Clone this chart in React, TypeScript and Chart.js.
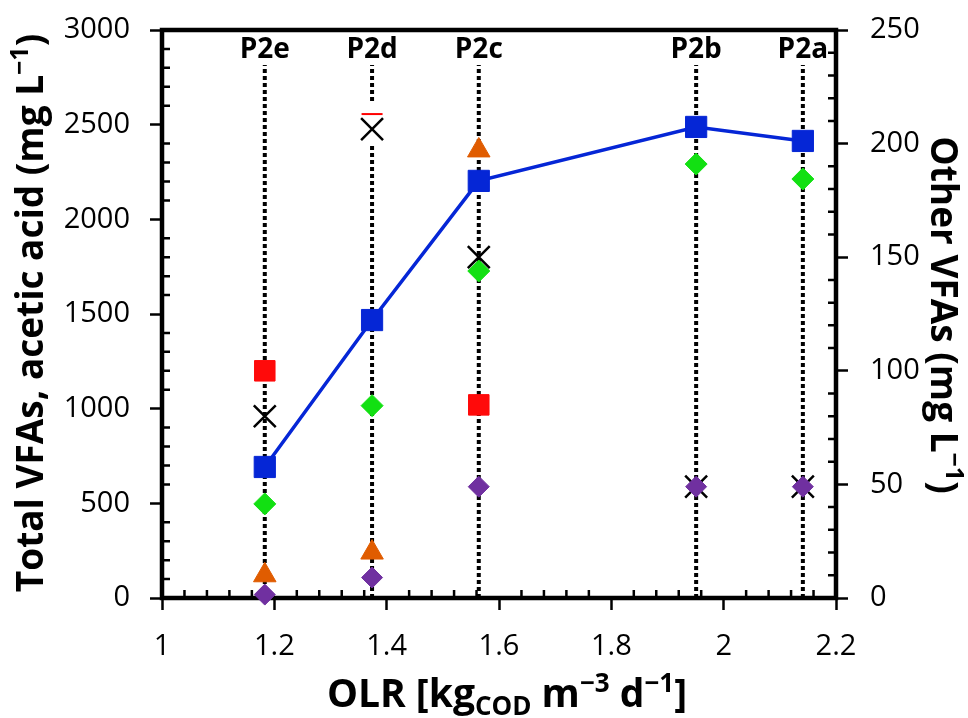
import React, { useEffect, useRef } from 'react';
import { Chart, registerables } from 'chart.js';

Chart.register(...registerables);

// ---- data ----
const phaseLabels = ['P2e', 'P2d', 'P2c', 'P2b', 'P2a'];
const olr = [1.183, 1.374, 1.564, 1.951, 2.141];
// left axis (mg/L)
const totalVFAs = [692, 1468, 2203, 2488, 2414];
const aceticAcid = [497, 1016, 1727, 2292, 2213];
// right axis (mg/L)
const otherRed = [100, null, 85, null, null];
const otherOrange = [10, 20, 197, null, null];
const otherCross = [80, 206.4, 150, 49, 49];
const otherPurple = [1.5, 9, 49, 49, 49];
const redCap = [null, 213, null, null, null];
const whitePatch = [null, 209, null, null, null];
const guideTop = 2815;

const xMin = 1, xMax = 2.2, xStep = 0.2, xMinor = 0.04;
const yMin = 0, yMax = 3000, yStep = 500, yMinor = 100;
const y1Min = 0, y1Max = 250, y1Step = 50, y1Minor = 10;

const FONT = "'Open Sans', 'Liberation Sans', sans-serif";

type Pt = { x: number; y: number | null };
const pts = (ys: (number | null)[]): Pt[] =>
  olr.map((x, i) => ({ x, y: ys[i] })).filter((p) => p.y !== null);

const guideData: Pt[] = [];
olr.forEach((x) => {
  guideData.push({ x, y: 0 }, { x, y: guideTop }, { x, y: null });
});

type Part = { t: string; s: number; dy: number };
function drawParts(ctx: CanvasRenderingContext2D, parts: Part[]) {
  let total = 0;
  const widths = parts.map((p) => {
    ctx.font = `bold ${p.s}px ${FONT}`;
    const w = ctx.measureText(p.t).width;
    total += w;
    return w;
  });
  let x = -total / 2;
  ctx.textBaseline = 'alphabetic';
  ctx.textAlign = 'left';
  parts.forEach((p, i) => {
    ctx.font = `bold ${p.s}px ${FONT}`;
    ctx.fillText(p.t, x, p.dy);
    x += widths[i];
  });
}

const decorPlugin = {
  id: 'decor',
  beforeDatasetsDraw(chart: any) {
    const { ctx, chartArea: a, scales } = chart;
    const xs = scales.x, yl = scales.y, yr = scales.y1;
    ctx.save();
    ctx.strokeStyle = '#000';
    ctx.lineWidth = 2.5;
    ctx.beginPath();
    const near = (v: number, step: number) => Math.abs(v / step - Math.round(v / step)) < 1e-6;
    for (let i = 0; yMin + i * yMinor <= yMax + 1e-9; i++) {
      const v = yMin + i * yMinor;
      if (near(v, yStep)) continue;
      const py = yl.getPixelForValue(v);
      ctx.moveTo(a.left, py);
      ctx.lineTo(a.left + 8, py);
    }
    for (let i = 0; y1Min + i * y1Minor <= y1Max + 1e-9; i++) {
      const v = y1Min + i * y1Minor;
      if (near(v, y1Step)) continue;
      const py = yr.getPixelForValue(v);
      ctx.moveTo(a.right, py);
      ctx.lineTo(a.right - 8, py);
    }
    for (let i = 0; xMin + i * xMinor <= xMax + 1e-9; i++) {
      const v = xMin + i * xMinor;
      if (near(v - xMin, xStep)) continue;
      const px = xs.getPixelForValue(v);
      ctx.moveTo(px, a.bottom);
      ctx.lineTo(px, a.bottom - 8);
    }
    ctx.stroke();
    ctx.lineWidth = 4.5;
    ctx.strokeRect(a.left, a.top, a.right - a.left, a.bottom - a.top);
    ctx.restore();
  },
  afterDraw(chart: any) {
    const { ctx, scales } = chart;
    ctx.save();
    ctx.fillStyle = '#000';
    // phase labels
    ctx.font = `bold 28px ${FONT}`;
    ctx.textAlign = 'center';
    ctx.textBaseline = 'middle';
    olr.forEach((x, i) => {
      ctx.fillText(phaseLabels[i], scales.x.getPixelForValue(x), 50);
    });
    // x title
    ctx.save();
    ctx.translate(507, 707);
    drawParts(ctx, [
      { t: 'OLR [kg', s: 39, dy: 0 },
      { t: 'COD', s: 26, dy: 8 },
      { t: ' m', s: 39, dy: 0 },
      { t: '\u22123', s: 26, dy: -15 },
      { t: ' d', s: 39, dy: 0 },
      { t: '\u22121', s: 26, dy: -15 },
      { t: ']', s: 39, dy: 0 },
    ]);
    ctx.restore();
    // left title
    ctx.save();
    ctx.translate(43, 313);
    ctx.rotate(-Math.PI / 2);
    drawParts(ctx, [
      { t: 'Total VFAs, acetic acid (mg L', s: 37, dy: 0 },
      { t: '\u22121', s: 25, dy: -15 },
      { t: ')', s: 37, dy: 0 },
    ]);
    ctx.restore();
    // right title
    ctx.save();
    ctx.translate(931, 315);
    ctx.rotate(Math.PI / 2);
    drawParts(ctx, [
      { t: 'Other VFAs (mg L', s: 37, dy: 0 },
      { t: '\u22121', s: 25, dy: -15 },
      { t: ')', s: 37, dy: 0 },
    ]);
    ctx.restore();
    ctx.restore();
  },
};

export default function App() {
  const ref = useRef<HTMLCanvasElement | null>(null);
  useEffect(() => {
    document.body.style.margin = '0';
    const canvas = ref.current;
    if (!canvas) return;
    const tickFont = { family: FONT, size: 29 };
    const grid = {
      display: true,
      drawOnChartArea: false,
      drawTicks: true,
      tickLength: 12,
      tickWidth: 2.5,
      tickColor: '#000',
      color: '#000',
    };
    const fitY = (w: number) => (s: any) => {
      s.width = w;
      s.paddingTop = 0;
      s.paddingBottom = 0;
    };
    const chart = new Chart(canvas, {
      type: 'scatter',
      data: {
        datasets: [
          {
            label: 'guides',
            data: guideData as any,
            showLine: true,
            spanGaps: false,
            borderColor: '#000',
            borderWidth: 4,
            borderDash: [4, 3],
            borderCapStyle: 'butt',
            pointRadius: 0,
            yAxisID: 'y',
            order: 10,
            clip: false as any,
          },
          {
            label: 'patch',
            data: pts(whitePatch) as any,
            pointStyle: 'rect',
            pointRadius: 28,
            backgroundColor: '#fff',
            borderWidth: 0,
            yAxisID: 'y1',
            order: 9,
            clip: false as any,
          },
          {
            label: 'Acetic acid',
            data: pts(aceticAcid) as any,
            pointStyle: 'rectRot',
            pointRadius: 11,
            backgroundColor: '#12e012',
            borderColor: '#12e012',
            borderWidth: 1,
            yAxisID: 'y',
            order: 6,
            clip: false as any,
          },
          {
            label: 'orange',
            data: pts(otherOrange) as any,
            pointStyle: 'triangle',
            pointRadius: 13,
            backgroundColor: '#e05c00',
            borderColor: '#e05c00',
            borderWidth: 1,
            yAxisID: 'y1',
            order: 5,
            clip: false as any,
          },
          {
            label: 'red',
            data: pts(otherRed) as any,
            pointStyle: 'rect',
            pointRadius: 14.5,
            backgroundColor: '#ff0a0a',
            borderColor: '#ff0a0a',
            borderWidth: 1,
            yAxisID: 'y1',
            order: 4,
            clip: false as any,
          },
          {
            label: 'Total VFAs',
            data: pts(totalVFAs) as any,
            showLine: true,
            borderColor: '#0526d6',
            borderWidth: 3.5,
            pointStyle: 'rect',
            pointRadius: 15,
            backgroundColor: '#0526d6',
            pointBorderColor: '#0526d6',
            pointBorderWidth: 1,
            yAxisID: 'y',
            order: 3,
            clip: false as any,
          },
          {
            label: 'cross',
            data: pts(otherCross) as any,
            pointStyle: 'crossRot',
            pointRadius: 15.5,
            borderColor: '#000',
            backgroundColor: '#000',
            borderWidth: 2.5,
            yAxisID: 'y1',
            order: 2,
            clip: false as any,
          },
          {
            label: 'cap',
            data: pts(redCap) as any,
            pointStyle: 'line',
            pointRadius: 10.5,
            borderColor: '#ff0000',
            borderWidth: 2,
            yAxisID: 'y1',
            order: 1.5,
            clip: false as any,
          },
          {
            label: 'purple',
            data: pts(otherPurple) as any,
            pointStyle: 'rectRot',
            pointRadius: 10.5,
            backgroundColor: '#7030a0',
            borderColor: '#7030a0',
            borderWidth: 1,
            yAxisID: 'y1',
            order: 1,
            clip: false as any,
          },
        ],
      },
      options: {
        responsive: false,
        animation: false,
        events: [],
        layout: { padding: { top: 30, left: 0, right: 0, bottom: 0 } },
        plugins: { legend: { display: false }, tooltip: { enabled: false }, title: { display: false } },
        scales: {
          x: {
            type: 'linear',
            position: 'bottom',
            min: xMin,
            max: xMax,
            ticks: {
              stepSize: xStep,
              color: '#000',
              font: tickFont,
              padding: 19,
              maxRotation: 0,
              callback: (v: any) => String(+Number(v).toFixed(1)),
            },
            grid,
            border: { display: false },
            afterFit: (s: any) => {
              s.height = 120;
              s.paddingLeft = 0;
              s.paddingRight = 0;
            },
          },
          y: {
            type: 'linear',
            position: 'left',
            min: yMin,
            max: yMax,
            ticks: { stepSize: yStep, color: '#000', font: tickFont, padding: 20, callback: (v: any) => String(v) },
            grid,
            border: { display: false },
            afterFit: fitY(162),
          },
          y1: {
            type: 'linear',
            position: 'right',
            min: y1Min,
            max: y1Max,
            ticks: { stepSize: y1Step, color: '#000', font: tickFont, padding: 22, callback: (v: any) => String(v) },
            grid,
            border: { display: false },
            afterFit: fitY(132),
          },
        },
      } as any,
      plugins: [decorPlugin],
    });
    return () => chart.destroy();
  }, []);
  return (
    <div style={{ width: 968, height: 718, background: '#fff' }}>
      <canvas ref={ref} width={968} height={718} style={{ display: 'block' }} />
    </div>
  );
}
